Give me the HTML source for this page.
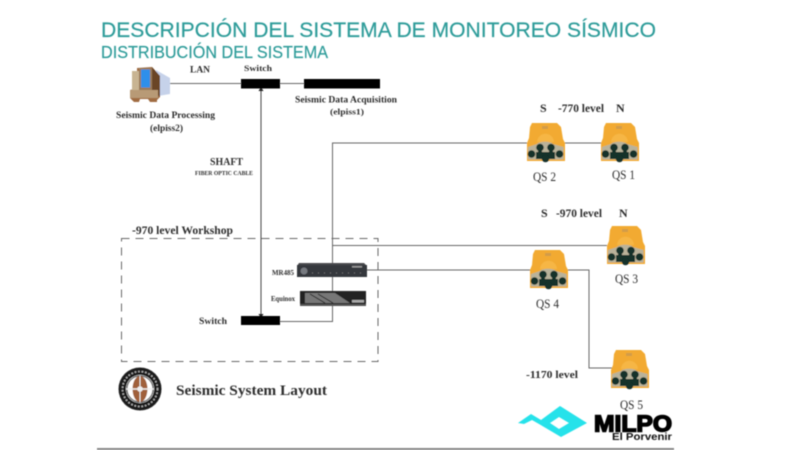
<!DOCTYPE html>
<html><head><meta charset="utf-8"><style>
html,body{margin:0;padding:0;background:#fff;width:800px;height:450px;overflow:hidden}
svg{display:block}
.s{font-family:"Liberation Serif",serif;fill:#2e2e2e}
.b{font-weight:bold}
</style></head><body>
<svg width="800" height="450" viewBox="0 0 800 450" xmlns="http://www.w3.org/2000/svg">
<defs>
<filter id="bl" x="-5%" y="-5%" width="110%" height="110%"><feGaussianBlur stdDeviation="0.45"/></filter>
<filter id="bl2" x="-5%" y="-5%" width="110%" height="110%"><feGaussianBlur stdDeviation="0.4"/></filter>
<symbol id="qs" viewBox="0 0 40 40" width="40" height="40" overflow="visible">
<path d="M6 0H31L35 4L37 16L39 20V38H1V20L3 15L4 4Z" fill="#f2aa30"/>
<path d="M11 19C12 8 27 8 28 19Z" fill="#f6b644"/>
<rect x="16" y="3" width="6" height="3" fill="#d29c4a"/>
<path d="M2 24L11 21C13 18 25 18 27 21L37.500 24V36.500H2Z" fill="#b9b29a"/>
<g fill="#12302a">
<circle cx="5.500" cy="31" r="3.800"/><circle cx="33.500" cy="31" r="3.800"/>
<circle cx="14" cy="24.500" r="3.800"/><circle cx="25" cy="24.500" r="3.800"/>
<rect x="12" y="24" width="4" height="10"/><rect x="23" y="24" width="4" height="10"/>
<rect x="10" y="29" width="19" height="7"/>
<circle cx="19.500" cy="35.500" r="3.800"/>
</g>
</symbol>
</defs>

<g filter="url(#bl2)">
<text x="101" y="37" font-family="'Liberation Sans',sans-serif" font-size="21.500" fill="#2f9c9a" stroke="#2f9c9a" stroke-width="0.200" textLength="555" lengthAdjust="spacingAndGlyphs">DESCRIPCIÓN DEL SISTEMA DE MONITOREO SÍSMICO</text>
<text x="101" y="58" font-family="'Liberation Sans',sans-serif" font-size="17.500" fill="#2f9c9a" stroke="#2f9c9a" stroke-width="0.200" textLength="227" lengthAdjust="spacingAndGlyphs">DISTRIBUCIÓN DEL SISTEMA</text>

<g fill="none" stroke="#666" stroke-width="1">
<path d="M165 83.500H304"/>
<path d="M261 88V317" stroke="#444"/>
<path d="M527 143H332.500V321.500H280"/>
<path d="M564 143H601"/>
<path d="M332 245.500H607"/>
<path d="M367 270H531"/>
<path d="M566 270H589V368H612"/>
</g>
<path d="M261 87l-2.500 4h5zM261 318l-2.500-4h5z" fill="#222"/>
<rect x="241" y="79" width="39" height="9.500" fill="#000"/>
<rect x="304" y="79" width="76" height="9.500" fill="#000"/>
<rect x="241" y="316" width="39" height="9" fill="#000"/>
<rect x="121.500" y="238.500" width="256.500" height="123" fill="none" stroke="#666" stroke-width="1" stroke-dasharray="8 6"/>

<!-- computer -->
<path d="M156 70L170 78V94L158 96Z" fill="#c6d2ea"/>
<path d="M137 68L152 67L160 76V97L157 100V102L150 102L148 99H140L139 102H134L130 98V90L137 88Z" fill="#a06c42"/>
<path d="M132 71H141V92H132Z" fill="#c8b492"/>
<path d="M152 67L160 76V97L152 90Z" fill="#6b4428"/>
<path d="M139 68H152V91H139Z" fill="#9a7a5a"/>
<path d="M141 69.500H150V87.500H141Z" fill="#2f8fea"/>
<rect x="130" y="90" width="28" height="8" fill="#b89a76"/>

<!-- MR485 -->
<path d="M299 263H364L367 266V277H297V266Z" fill="#4a4a4e"/>
<rect x="297" y="265" width="70" height="12" fill="#35373d"/>
<circle cx="304" cy="271" r="3.500" fill="#777a80"/>
<path d="M312 273H362" stroke="#888" stroke-width="0.800" stroke-dasharray="1 5"/>
<rect x="352" y="266" width="10" height="1.500" fill="#999"/>
<!-- Equinox -->
<rect x="300" y="291" width="66" height="15" fill="#222"/>
<path d="M305 293H335L350 303H305Z" fill="#777"/>
<path d="M310 294L325 303M318 294L333 303" stroke="#222" stroke-width="1"/>
<rect x="352" y="300" width="12" height="2.500" fill="#aaa"/>
<rect x="300" y="304" width="66" height="2" fill="#555"/>
<path d="M332.500 277V291" stroke="#666"/>

<use href="#qs" x="526" y="123"/>
<use href="#qs" x="600" y="123"/>
<use href="#qs" x="606" y="226"/>
<use href="#qs" x="529" y="250"/>
<use href="#qs" x="610" y="350"/>

<!-- seal -->
<circle cx="140" cy="389" r="21.500" fill="#1c1c1c"/>
<circle cx="140" cy="389" r="17.500" fill="none" stroke="#bbb" stroke-width="1.500" stroke-dasharray="1.500 2"/>
<circle cx="140" cy="389" r="14" fill="#fff"/>
<circle cx="140" cy="389" r="13" fill="none" stroke="#333" stroke-width="1"/>
<ellipse cx="140" cy="389" rx="7.500" ry="13" fill="#a0603a"/>
<path d="M126 389H154" stroke="#eee" stroke-width="1.500"/>
<path d="M140 376V402" stroke="#eee" stroke-width="1"/>
<circle cx="140" cy="389" r="2.800" fill="#eee"/>

<!-- Milpo -->
<path fill-rule="evenodd" d="M518 423L531 414L541 420L560 406L587 423L561 437L539 424L532 420L524 424ZM550 423L559 429L569 423L559 417Z" fill="#26e2ea"/>
<rect x="97" y="448" width="577" height="2" fill="#888"/>
</g>

<g filter="url(#bl)">
<text x="594" y="431.500" font-family="'Liberation Sans',sans-serif" font-weight="bold" font-size="23" fill="#000" stroke="#000" stroke-width="1.500" textLength="78" lengthAdjust="spacingAndGlyphs">MILPO</text>
<text x="612" y="440" font-family="'Liberation Sans',sans-serif" font-weight="bold" font-size="10.500" fill="#111" textLength="60" lengthAdjust="spacingAndGlyphs">El Porvenir</text>

<text class="s b" x="190" y="72.500" font-size="9.500" textLength="20" lengthAdjust="spacingAndGlyphs">LAN</text>
<text class="s b" x="244" y="71" font-size="8.500" textLength="28" lengthAdjust="spacingAndGlyphs">Switch</text>
<text class="s b" x="295" y="102.500" font-size="9.500" textLength="102" lengthAdjust="spacingAndGlyphs">Seismic Data Acquisition</text>
<text class="s b" x="330" y="114.500" font-size="8.500" textLength="34" lengthAdjust="spacingAndGlyphs">(elpiss1)</text>
<text class="s b" x="116" y="118" font-size="9.500" textLength="99" lengthAdjust="spacingAndGlyphs">Seismic Data Processing</text>
<text class="s b" x="150" y="131" font-size="9" textLength="33" lengthAdjust="spacingAndGlyphs">(elpiss2)</text>
<text class="s b" x="210" y="165" font-size="10" textLength="33" lengthAdjust="spacingAndGlyphs">SHAFT</text>
<text class="s b" x="195" y="175" font-size="6.500" textLength="58" lengthAdjust="spacingAndGlyphs">FIBER OPTIC CABLE</text>

<text class="s b" x="132" y="234" font-size="11.500" textLength="101" lengthAdjust="spacingAndGlyphs">-970 level Workshop</text>
<text class="s b" x="272" y="275" font-size="7.500" textLength="22" lengthAdjust="spacingAndGlyphs">MR485</text>
<text class="s b" x="271" y="301" font-size="7.500" textLength="24" lengthAdjust="spacingAndGlyphs">Equinox</text>
<text class="s b" x="199" y="324" font-size="9.500" textLength="28" lengthAdjust="spacingAndGlyphs">Switch</text>
<text class="s b" x="176" y="395" font-size="14.500" textLength="151" lengthAdjust="spacingAndGlyphs">Seismic System Layout</text>

<text class="s b" x="540" y="112" font-size="12">S</text>
<text class="s b" x="558" y="112" font-size="12" textLength="46" lengthAdjust="spacingAndGlyphs">-770 level</text>
<text class="s b" x="616" y="112" font-size="12">N</text>
<text class="s" x="533" y="181" font-size="13" textLength="23" lengthAdjust="spacingAndGlyphs">QS 2</text>
<text class="s" x="612" y="179" font-size="13" textLength="23" lengthAdjust="spacingAndGlyphs">QS 1</text>

<text class="s b" x="541" y="217" font-size="12">S</text>
<text class="s b" x="556" y="217" font-size="12" textLength="46" lengthAdjust="spacingAndGlyphs">-970 level</text>
<text class="s b" x="619" y="217" font-size="12">N</text>
<text class="s" x="615" y="283" font-size="13" textLength="23" lengthAdjust="spacingAndGlyphs">QS 3</text>
<text class="s" x="536" y="308" font-size="13" textLength="23" lengthAdjust="spacingAndGlyphs">QS 4</text>

<text class="s b" x="526" y="378" font-size="11" textLength="52" lengthAdjust="spacingAndGlyphs">-1170 level</text>
<text class="s" x="620" y="409" font-size="13" textLength="23" lengthAdjust="spacingAndGlyphs">QS 5</text>
</g>
</svg>
</body></html>
